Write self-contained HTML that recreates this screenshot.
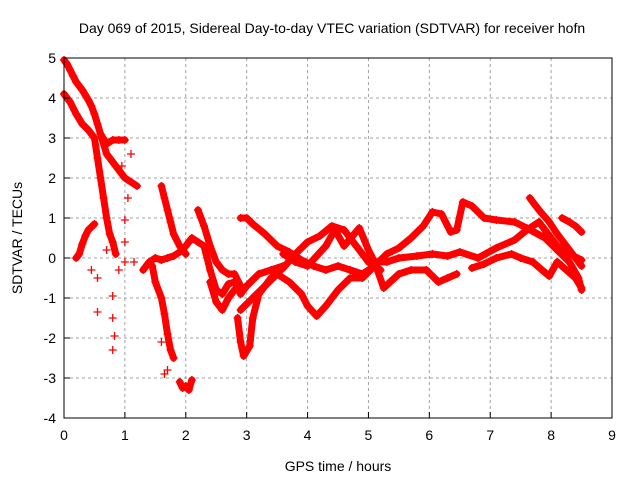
<!DOCTYPE html>
<html><head><meta charset="utf-8"><style>
body{margin:0;background:#fff}
svg{display:block;font-family:"Liberation Sans",sans-serif}
</style></head><body>
<svg id="chart" width="640" height="480" viewBox="0 0 640 480">
<rect width="640" height="480" fill="#fff"/>
<text x="332" y="33" font-size="14" text-anchor="middle">Day 069 of 2015, Sidereal Day-to-day VTEC variation (SDTVAR) for receiver hofn</text>
<text transform="translate(22,238) rotate(-90)" font-size="14" text-anchor="middle">SDTVAR / TECUs</text>
<text x="338" y="471" font-size="14" text-anchor="middle">GPS time / hours</text>
<g id="grid"></g><g id="marks"></g><g id="axes"></g>
</svg>
<script>
const xTicks=[0,1,2,3,4,5,6,7,8,9];
const yTicks=[-4,-3,-2,-1,0,1,2,3,4,5];
const seriesA=[[0,4.95],[0.05,4.85],[0.1,4.7],[0.15,4.55],[0.2,4.4],[0.3,4.2],[0.4,3.95],[0.45,3.8],[0.5,3.6],[0.55,3.35],[0.6,3.1],[0.7,2.85],[0.8,2.95],[0.9,2.95],[1.0,2.95]];
const seriesB=[[0.6,3.1],[0.7,2.6],[0.8,2.4],[0.9,2.2],[1.0,2.0],[1.1,1.9],[1.2,1.8]];
const seriesC=[[0,4.1],[0.1,3.9],[0.2,3.6],[0.3,3.35],[0.4,3.2],[0.5,3.0],[0.55,2.5],[0.6,2.0],[0.65,1.5],[0.7,1.0],[0.75,0.6],[0.8,0.4],[0.85,0.1]];
const seriesD=[[0.2,0.0],[0.25,0.1],[0.3,0.35],[0.35,0.55],[0.4,0.7],[0.5,0.85]];
const seriesE=[[1.6,1.8],[1.65,1.5],[1.7,1.2],[1.75,0.9],[1.8,0.6],[1.9,0.3],[2.0,0.1]];
const seriesF=[[1.3,-0.3],[1.4,-0.1],[1.5,0.0],[1.6,-0.05],[1.7,0.0],[1.8,0.05],[1.9,0.15],[2.0,0.3],[2.1,0.5],[2.2,0.4],[2.3,0.3],[2.4,-0.3],[2.5,-0.8],[2.6,-0.9],[2.7,-0.65],[2.8,-0.6],[2.9,-0.9],[3.0,-0.7],[3.2,-0.4],[3.4,-0.3],[3.6,-0.2]];
const seriesG=[[2.2,1.2],[2.3,0.8],[2.4,0.3],[2.5,-0.1],[2.6,-0.3],[2.7,-0.4],[2.8,-0.4],[2.9,-0.7]];
const seriesH=[[1.45,-0.2],[1.5,-0.6],[1.6,-1.0],[1.65,-1.4],[1.7,-1.9],[1.75,-2.3],[1.8,-2.5]];
const seriesI=[[1.9,-3.1],[1.95,-3.25],[2.0,-3.2],[2.05,-3.3],[2.1,-3.05]];
const seriesJ=[[2.4,-0.6],[2.5,-1.1],[2.6,-1.3],[2.7,-1.0],[2.8,-0.8]];
const seriesK=[[2.85,-1.5],[2.9,-2.1],[2.95,-2.45],[3.05,-2.2],[3.1,-1.5],[3.2,-0.9],[3.4,-0.5],[3.6,-0.25],[3.8,0.1],[4.0,0.4],[4.2,0.55],[4.4,0.8],[4.6,0.7],[4.8,0.3],[5.0,-0.1],[5.2,-0.3]];
const seriesL=[[2.9,1.0],[3.0,1.0],[3.1,0.85],[3.3,0.6],[3.5,0.3],[3.7,0.15],[3.9,-0.05],[4.1,-0.2],[4.3,-0.3],[4.5,-0.2],[4.7,-0.3],[4.9,-0.4],[5.1,-0.2]];
const seriesM=[[2.9,-1.3],[3.1,-1.0],[3.3,-0.7],[3.5,-0.4],[3.7,-0.6],[3.9,-0.9],[4.0,-1.2],[4.15,-1.45],[4.3,-1.2],[4.5,-0.8],[4.7,-0.5],[4.9,-0.5],[5.1,-0.2],[5.3,0.1],[5.5,0.25],[5.7,0.5],[5.9,0.8],[6.05,1.15],[6.2,1.1],[6.35,0.65],[6.45,0.7],[6.55,1.4],[6.7,1.3],[6.9,1.0],[7.1,0.95],[7.4,0.9],[7.6,0.75],[7.9,0.5],[8.1,0.2],[8.3,-0.1],[8.45,-0.5],[8.5,-0.8]];
const seriesN=[[3.6,0.1],[3.8,-0.1],[4.0,-0.2],[4.3,0.3],[4.45,0.7],[4.6,0.3],[4.85,0.75],[5.0,0.2],[5.1,-0.1],[5.25,-0.75],[5.5,-0.4],[5.7,-0.3],[5.95,-0.3],[6.15,-0.6],[6.3,-0.5],[6.45,-0.4]];
const seriesO=[[5.0,-0.1],[5.3,-0.1],[5.5,0.0],[5.8,0.05],[6.05,0.1],[6.3,0.05],[6.5,0.15],[6.8,0.0],[7.1,0.25],[7.4,0.45],[7.6,0.7],[7.8,0.9],[8.0,0.5],[8.1,0.3],[8.3,0.1],[8.5,-0.05]];
const seriesP=[[6.7,-0.25],[6.9,-0.15],[7.1,0.0],[7.35,0.1],[7.5,0.0],[7.7,-0.1],[7.85,-0.3],[7.97,-0.45],[8.1,-0.1],[8.25,-0.3],[8.4,-0.5],[8.5,-0.75]];
const seriesQ=[[7.65,1.5],[7.8,1.2],[7.97,0.9],[8.1,0.6],[8.25,0.3],[8.35,0.1],[8.5,-0.2]];
const seriesR=[[8.18,1.0],[8.3,0.9],[8.4,0.8],[8.5,0.65]];
const scatterX=[0.55,0.55,0.8,0.8,0.83,1.0,1.05,1.0,1.0,1.15,0.8,1.65,0.9,0.45,0.7,1.1,0.95,1.6,1.7];
const scatterY=[-1.35,-0.5,-1.5,-2.3,-1.95,0.95,1.5,0.4,-0.1,-0.1,-0.95,-2.9,-0.3,-0.3,0.2,2.6,2.3,-2.1,-2.8];
const allSeries=[seriesA,seriesB,seriesC,seriesD,seriesE,seriesF,seriesG,seriesH,seriesI,seriesJ,seriesK,seriesL,seriesM,seriesN,seriesO,seriesP,seriesQ,seriesR];
const NS='http://www.w3.org/2000/svg';
const L=64,R=612,T=58,B=418;
function sx(v){return L+(v-0)/(9-0)*(R-L);}
function sy(v){return B-(v+4)/(9)*(B-T);}
function mk(tag,attrs,parent){const e=document.createElementNS(NS,tag);for(const k in attrs)e.setAttribute(k,attrs[k]);parent.appendChild(e);return e;}
const grid=document.getElementById('grid'),axes=document.getElementById('axes'),marks=document.getElementById('marks');
xTicks.forEach(t=>{
  if(t>0&&t<9){const g=mk('line',{x1:sx(t),x2:sx(t),y1:T,y2:B,stroke:'#a0a0a0','stroke-dasharray':'3,3'},grid);
  
  }
  const tl=mk('text',{x:sx(t),y:B+22,'font-size':14,'text-anchor':'middle'},axes);tl.textContent=t;
  
  
  mk('line',{x1:sx(t),x2:sx(t),y1:B,y2:B-6,stroke:'#000'},axes);
});
yTicks.forEach(t=>{
  if(t>-4&&t<5){const g=mk('line',{x1:L,x2:R,y1:sy(t),y2:sy(t),stroke:'#a0a0a0','stroke-dasharray':'3,3'},grid);
  
  }
  const tl=mk('text',{x:L-8,y:sy(t)+5,'font-size':14,'text-anchor':'end'},axes);tl.textContent=t;
  
  
  mk('line',{x1:L,x2:L+6,y1:sy(t),y2:sy(t),stroke:'#000'},axes);
});
const frame=mk('rect',{x:L,y:T,width:R-L,height:B-T,fill:'none',stroke:'#000'},axes);


function plus(x,y){
  const m=mk('path',{d:`M${x-4},${y}H${x+4}M${x},${y-4}V${y+4}`,stroke:'#f00','stroke-width':1.3},marks);
  
  
}
allSeries.forEach(s=>{
  const pl=mk('polyline',{points:s.map(p=>sx(p[0])+','+sy(p[1])).join(' '),fill:'none',stroke:'#f00','stroke-width':7,'stroke-linejoin':'round','stroke-linecap':'round'},marks);
  
  
  s.forEach(p=>plus(sx(p[0]),sy(p[1])));
});
scatterX.forEach((v,i)=>plus(sx(v),sy(scatterY[i])));
</script>
</body></html>
